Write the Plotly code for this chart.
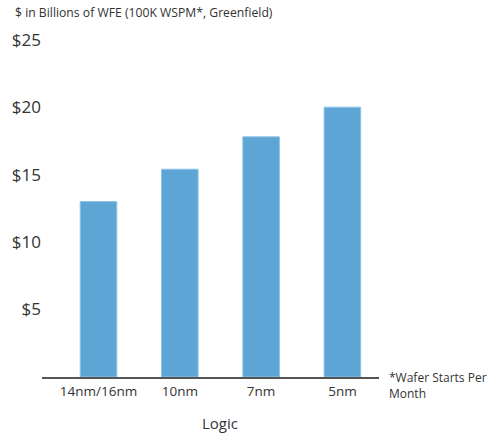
import plotly.graph_objects as go

# Wafer fab equipment cost per 100K wafer starts/month, greenfield logic fab
nodes = ["14nm/16nm", "10nm", "7nm", "5nm"]
wfe_billions = [13.0, 15.4, 17.8, 20.0]
tick_vals = [5, 10, 15, 20, 25]
tick_text = ["$5", "$10", "$15", "$20", "$25"]

BAR_COLOR = "#5CA5D4"
TEXT = "#333333"
FONT = "Open Sans"

fig = go.Figure(
    go.Bar(
        x=list(range(len(nodes))),
        y=wfe_billions,
        width=0.45,
        marker=dict(color=BAR_COLOR, line=dict(color="#8EC3E6", width=1)),
        hoverinfo="skip",
    )
)

fig.update_layout(
    width=491,
    height=434,
    margin=dict(l=39, r=112, t=37, b=57),
    paper_bgcolor="white",
    plot_bgcolor="white",
    showlegend=False,
    font=dict(family=FONT, color=TEXT),
    xaxis=dict(
        range=[-0.695, 3.45],
        tickvals=list(range(len(nodes))),
        ticktext=nodes,
        tickfont=dict(size=13.5, color=TEXT),
        showgrid=False,
        zeroline=False,
        showline=True,
        linecolor="#555555",
        linewidth=2,
        ticks="",
        ticklabelstandoff=1,
    ),
    yaxis=dict(
        range=[0, 25.2],
        tickvals=tick_vals,
        ticktext=tick_text,
        tickfont=dict(size=17, color=TEXT),
        showgrid=False,
        zeroline=False,
        showline=False,
        ticks="",
    ),
    annotations=[
        dict(
            text="$ in Billions of WFE (100K WSPM*, Greenfield)",
            xref="paper", yref="paper", x=-0.085, y=1.0, xanchor="left", yanchor="bottom",
            yshift=14, showarrow=False, font=dict(size=12.2, color=TEXT, family=FONT),
        ),
        dict(
            text="*Wafer Starts Per<br>Month",
            xref="paper", yref="paper", x=1.0, y=0.0, xanchor="left", yanchor="middle",
            xshift=8, yshift=-8, align="left", showarrow=False,
            font=dict(size=12, color=TEXT, family=FONT),
        ),
        dict(
            text="Logic",
            xref="x", yref="paper", x=1.5, y=0.0, xanchor="center", yanchor="middle",
            yshift=-46, showarrow=False, font=dict(size=15, color=TEXT, family=FONT),
        ),
    ],
)

fig.write_html("out.html")
